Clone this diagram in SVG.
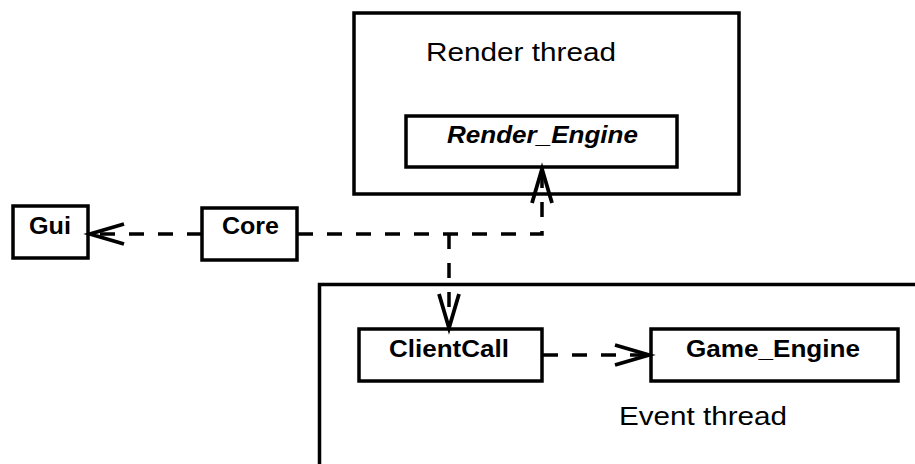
<svg xmlns="http://www.w3.org/2000/svg" width="915" height="464" viewBox="0 0 915 464">
<style>
.box{fill:#fff;stroke:#000;stroke-width:3.5}
.frame{fill:none;stroke:#000;stroke-width:3.5}
.lbl{font-family:"Liberation Sans",Arial,Helvetica,sans-serif;font-weight:bold;font-size:23px;fill:#000}
.title{font-family:"Liberation Sans",Arial,Helvetica,sans-serif;font-size:26px;fill:#000}
.dep{fill:none;stroke:#000;stroke-width:3.5;stroke-dasharray:15,14}
</style>
<defs>
<marker id="open" viewBox="0 0 40 24" refX="37" refY="12" markerWidth="40" markerHeight="24" markerUnits="userSpaceOnUse" orient="auto" overflow="visible">
<path d="M3,2 L37,12 L3,22" fill="none" stroke="#000" stroke-width="3.8"/>
</marker>
</defs>
<rect width="915" height="464" fill="#fff"/>
<g id="render-thread">
<rect class="frame" x="354" y="13" width="385" height="181"/>
<text class="title" x="426" y="61" textLength="190" lengthAdjust="spacingAndGlyphs">Render thread</text>
</g>
<g id="event-thread">
<rect class="frame" x="319.5" y="284.5" width="700" height="300"/>
<text class="title" x="619" y="425" textLength="168" lengthAdjust="spacingAndGlyphs">Event thread</text>
</g>
<g id="render-engine">
<rect class="box" x="406" y="116" width="271" height="51"/>
<text class="lbl" x="447" y="143" font-size="22" font-style="italic" textLength="191" lengthAdjust="spacingAndGlyphs">Render_Engine</text>
</g>
<g id="gui">
<rect class="box" x="13" y="206" width="75" height="52"/>
<text class="lbl" x="29" y="234" textLength="42" lengthAdjust="spacingAndGlyphs">Gui</text>
</g>
<g id="core">
<rect class="box" x="202" y="208" width="95" height="52"/>
<text class="lbl" x="222" y="234" textLength="57" lengthAdjust="spacingAndGlyphs">Core</text>
</g>
<g id="clientcall">
<rect class="box" x="359" y="329" width="183" height="52"/>
<text class="lbl" x="389" y="357" textLength="120" lengthAdjust="spacingAndGlyphs">ClientCall</text>
</g>
<g id="game-engine">
<rect class="box" x="651" y="329" width="247" height="52"/>
<text class="lbl" x="686" y="357" textLength="174" lengthAdjust="spacingAndGlyphs">Game_Engine</text>
</g>
<g id="connectors">
<path class="dep" d="M202,234 H90" marker-end="url(#open)"/>
<path class="dep" d="M298,234 H542 V169" marker-end="url(#open)"/>
<path class="dep" d="M449,234 V328" marker-end="url(#open)"/>
<path class="dep" d="M543,355 H649" marker-end="url(#open)"/>
</g>
</svg>
